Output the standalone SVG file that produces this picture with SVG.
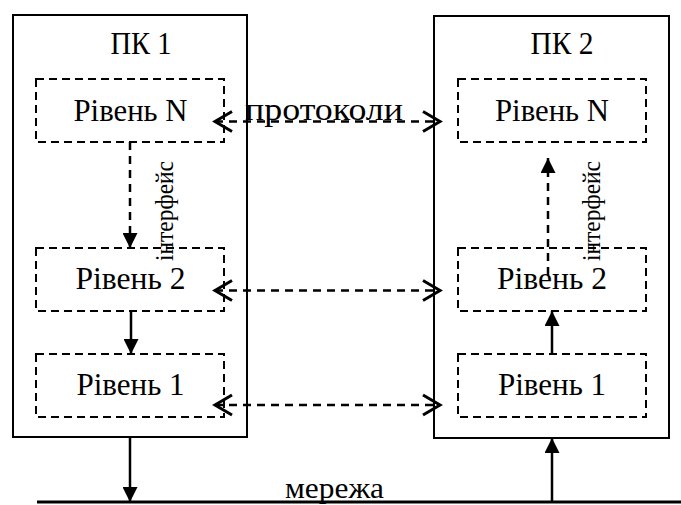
<svg xmlns="http://www.w3.org/2000/svg" width="681" height="505" viewBox="0 0 681 505">
<style>
text{font-family:"Liberation Serif","Times New Roman",serif;fill:#000}
.t{font-size:31px;text-anchor:middle}
.m{font-size:29px;text-anchor:middle}
.v{font-size:25px;text-anchor:middle}
.outer{fill:#fff;stroke:#000;stroke-width:2}
.lvl{fill:none;stroke:#000;stroke-width:2;stroke-dasharray:8 5}
.solid{stroke:#000;stroke-width:2.5;fill:none}
.dash{stroke:#000;stroke-width:2.5;fill:none;stroke-dasharray:8 6}
</style>
<defs>
<marker id="fa" markerUnits="userSpaceOnUse" viewBox="0 0 15 15" markerWidth="15" markerHeight="15" refX="15" refY="7.5" orient="auto">
<path d="M0,0 L15,7.5 L0,15 Z" fill="#000" stroke="none"/>
</marker>
<marker id="oa" markerUnits="userSpaceOnUse" viewBox="-2 -2 22 24" markerWidth="22" markerHeight="24" refX="17" refY="10" orient="auto-start-reverse">
<path d="M0,0 L17,10 L0,20" fill="none" stroke="#000" stroke-width="3"/>
</marker>
</defs>
<g id="pc1">
<rect class="outer" x="13" y="15" width="234" height="422"/>
<text class="t" x="141" y="54" textLength="61" lengthAdjust="spacingAndGlyphs">ПК 1</text>
</g>
<g id="pc2">
<rect class="outer" x="434" y="16" width="235" height="422"/>
<text class="t" x="562" y="54" textLength="63" lengthAdjust="spacingAndGlyphs">ПК 2</text>
</g>
<g id="pc1-levelN">
<rect class="lvl" x="36" y="79" width="188" height="63"/>
<text class="t" x="130.5" y="121" textLength="114" lengthAdjust="spacingAndGlyphs">Рівень N</text>
</g>
<g id="pc1-level2">
<rect class="lvl" x="36" y="248" width="188" height="63"/>
<text class="t" x="130.5" y="289" textLength="110" lengthAdjust="spacingAndGlyphs">Рівень 2</text>
</g>
<g id="pc1-level1">
<rect class="lvl" x="36" y="354" width="188" height="63"/>
<text class="t" x="130.5" y="395" textLength="108" lengthAdjust="spacingAndGlyphs">Рівень 1</text>
</g>
<g id="pc2-levelN">
<rect class="lvl" x="458" y="79" width="188" height="63"/>
<text class="t" x="552" y="121" textLength="114" lengthAdjust="spacingAndGlyphs">Рівень N</text>
</g>
<g id="pc2-level2">
<rect class="lvl" x="458" y="248" width="188" height="63"/>
<text class="t" x="552" y="289" textLength="110" lengthAdjust="spacingAndGlyphs">Рівень 2</text>
</g>
<g id="pc2-level1">
<rect class="lvl" x="458" y="354" width="188" height="63"/>
<text class="t" x="552" y="395" textLength="108" lengthAdjust="spacingAndGlyphs">Рівень 1</text>
</g>
<g id="network">
<line x1="37" y1="502" x2="681" y2="502" stroke="#000" stroke-width="3"/>
<text class="m" x="334.5" y="498" textLength="99" lengthAdjust="spacingAndGlyphs">мережа</text>
</g>
<g id="connectors">
<line class="dash" x1="130" y1="142" x2="130" y2="248" marker-end="url(#fa)"/>
<line class="solid" x1="131" y1="311" x2="131" y2="354" marker-end="url(#fa)"/>
<line class="solid" x1="130" y1="437" x2="130" y2="502" marker-end="url(#fa)"/>
<line class="solid" x1="552" y1="354" x2="552" y2="311" marker-end="url(#fa)"/>
<line class="solid" x1="552" y1="502" x2="552" y2="438" marker-end="url(#fa)"/>
<line class="dash" x1="548" y1="275" x2="548" y2="158" marker-end="url(#fa)"/>
<line class="dash" x1="215" y1="121.5" x2="440" y2="121.5" marker-start="url(#oa)" marker-end="url(#oa)"/>
<line class="dash" x1="215" y1="290.5" x2="440" y2="290.5" marker-start="url(#oa)" marker-end="url(#oa)"/>
<line class="dash" x1="215" y1="405" x2="440" y2="405" marker-start="url(#oa)" marker-end="url(#oa)"/>
<text class="t" x="324" y="120" textLength="158" lengthAdjust="spacingAndGlyphs">протоколи</text>
<text class="v" transform="translate(173 211) rotate(-90)" textLength="100" lengthAdjust="spacingAndGlyphs">інтерфейс</text>
<text class="v" transform="translate(600 211) rotate(-90)" textLength="100" lengthAdjust="spacingAndGlyphs">інтерфейс</text>
</g>
</svg>
